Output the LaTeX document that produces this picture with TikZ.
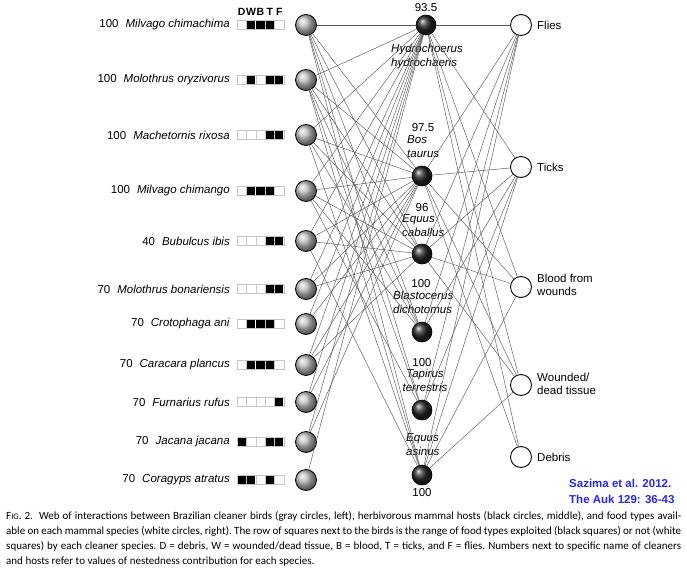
\documentclass[tikz,border=0pt]{standalone}
\usepackage{fontspec}
\setmainfont{Liberation Sans}
\newfontfamily\capfont{Carlito}
\usetikzlibrary{calc}
\definecolor{credblue}{RGB}{40,40,235}
\tikzstyle{bird}=[circle, draw=black, line width=0.8pt, minimum size=21pt, inner sep=0pt, shading=ball, ball color=gray!50]
\tikzstyle{host}=[circle, draw=black, line width=0.6pt, minimum size=20pt, inner sep=0pt, shading=ball, ball color=black!85]
\tikzstyle{food}=[circle, draw=black, line width=0.9pt, fill=white, minimum size=21pt, inner sep=0pt]
\tikzstyle{web}=[draw=gray!70!black, line width=0.45pt]
\tikzstyle{lab}=[inner sep=0pt, font=\fontsize{11.5}{13.5}\selectfont]
\tikzstyle{sp}=[inner sep=0pt, font=\fontsize{11.5}{14}\selectfont\itshape, align=left]

\begin{document}
\begin{tikzpicture}[x=1pt, y=-1pt]
  \fill[white] (0,0) rectangle (687,575);
  \useasboundingbox (0,0) rectangle (687,575);
  % cleaner birds, gray circles
  \foreach \y/\nest/\name/\diet [count=\i] in {
      25/100/Milvago chimachima/{0,1,1,1,0},
      80/100/Molothrus oryzivorus/{0,1,0,1,1},
      135/100/Machetornis rixosa/{0,0,0,1,1},
      191/100/Milvago chimango/{0,1,1,1,0},
      241/40/Bubulcus ibis/{0,0,0,1,1},
      289/70/Molothrus bonariensis/{0,0,0,1,1},
      324/70/Crotophaga ani/{0,1,1,1,0},
      365/70/Caracara plancus/{0,1,1,1,0},
      402/70/Furnarius rufus/{0,0,0,0,1},
      442/70/Jacana jacana/{1,0,0,1,1},
      480/70/Coragyps atratus/{1,1,0,1,0}}
  {
    \node[bird] (b\i) at (306,\y) {};
    \node[lab, anchor=east] (bl\i) at (230,\y) {\nest\hspace{7pt}\textit{\name}};
    \foreach \s [count=\k] in \diet {
      \draw[gray!45, fill=white, line width=0.5pt] ({237+(\k-1)*9.4},{\y-4.5}) rectangle ++(9.4,9);
      \ifnum\s=1
        \fill[black] ({237.6+(\k-1)*9.4},{\y-3.9}) rectangle ++(8.2,7.8);
      \fi
    }
  }
  \foreach \c [count=\k] in {D,W,B,T,F}
    \node[lab, font=\bfseries\fontsize{10.5}{12}\selectfont] (hd\k) at ({241.7+(\k-1)*9.4},12) {\c};

  % mammal hosts, black circles
  \node[host] (h1) at (426,25) {};
  \node[host] (h2) at (422,176) {};
  \node[host] (h3) at (422,254) {};
  \node[host] (h4) at (422,332) {};
  \node[host] (h5) at (422,410) {};
  \node[host] (h6) at (422,475) {};
  \node[lab] (n1) at (426,8) {93.5};
  \node[lab] (n2) at (423,128) {97.5};
  \node[lab] (n3) at (422,208) {96};
  \node[lab] (n4) at (421,284) {100};
  \node[lab] (n5) at (422,363) {100};
  \node[lab] (n6) at (422,493) {100};
  \node[sp, anchor=west] (s1) at (391,56.5) {Hydrochoerus\\hydrochaeris};
  \node[sp, anchor=west] (s2) at (407,147) {Bos\\taurus};
  \node[sp, anchor=west] (s3) at (402,225.5) {Equus\\caballus};
  \node[sp, anchor=west] (s4) at (393,302.5) {Blastocerus\\dichotomus};
  \node[sp, align=center] (s5) at (425,380) {Tapirus\\terrestris};
  \node[sp, anchor=west] (s6) at (406,445) {Equus\\asinus};

  % food types, white circles
  \node[food] (flies) at (521,25) {};
  \node[food] (ticks) at (521,167) {};
  \node[food] (blood) at (521,287) {};
  \node[food] (wound) at (521,385) {};
  \node[food] (debris) at (521,457) {};
  \node[lab, anchor=west] (fl) at (537,25) {Flies};
  \node[lab, anchor=west] (tl) at (537,167) {Ticks};
  \node[lab, anchor=west, align=left, font=\fontsize{11.5}{13}\selectfont] (bll) at (537,284.5) {Blood from\\wounds};
  \node[lab, anchor=west, align=left, font=\fontsize{11.5}{13}\selectfont] (wl) at (537,383.5) {Wounded/\\dead tissue};
  \node[lab, anchor=west] (dl) at (537,457) {Debris};

  % birds -- hosts
  \foreach \b/\hs in {1/{1,2,3,4,5,6}, 2/{1,2,3,4,5,6}, 3/{1,2,3,4,6},
      4/{1,2,3,4,5}, 5/{1,2,3,6}, 6/{1,2,3}, 7/{1,2}, 8/{1,2,3},
      9/{1,2}, 10/{1,2}, 11/{1}}
    \foreach \h in \hs
      \draw[web] (b\b) -- (h\h);
  % hosts -- food
  \foreach \h/\fs in {1/{flies,ticks,blood,wound,debris}, 2/{flies,ticks,blood,wound,debris},
      3/{flies,ticks,blood,wound}, 4/{flies,ticks}, 5/{flies,ticks}, 6/{flies,ticks,blood,wound}}
    \foreach \f in \fs
      \draw[web] (h\h) -- (\f);

  \node[anchor=west, inner sep=0pt, align=left, text=credblue,
        font=\bfseries\fontsize{11.5}{16}\selectfont] (credit) at (569,491)
        {Sazima et al. 2012.\\The Auk 129: 36-43};
  \node[anchor=north west, inner sep=0pt, text width=675pt, align=justify,
        font=\capfont\fontsize{11}{15}\selectfont\frenchspacing] (caption) at (6,511)
        {F{\fontsize{8.5}{10}\selectfont IG}. 2.\ \ Web of interactions between Brazilian cleaner birds (gray circles, left), herbivorous mammal hosts (black circles, middle), and food types avail-\linebreak
        able on each mammal species (white circles, right). The row of squares next to the birds is the range of food types exploited (black squares) or not (white\linebreak
        squares) by each cleaner species. D = debris, W = wounded/dead tissue, B = blood, T = ticks, and F = flies. Numbers next to specific name of cleaners\linebreak
        and hosts refer to values of nestedness contribution for each species.};
\end{tikzpicture}
\end{document}
